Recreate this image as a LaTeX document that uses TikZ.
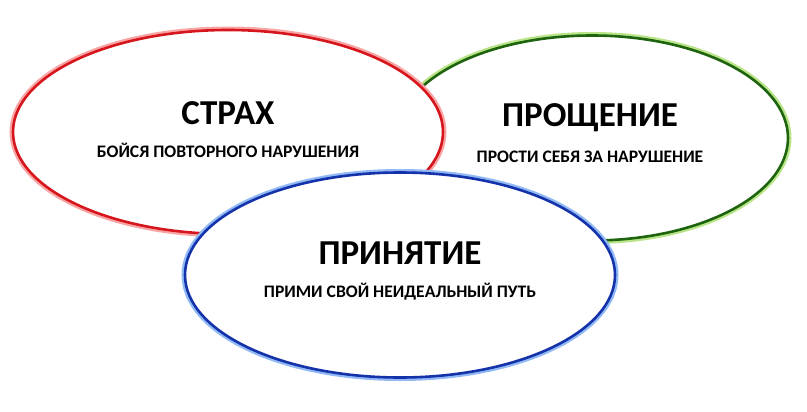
\documentclass[tikz,border=0pt]{standalone}
\usepackage{fontspec}
\setmainfont{Carlito}
\usetikzlibrary{shapes.geometric}
\definecolor{redline}{RGB}{214,22,28}
\definecolor{redglow}{RGB}{250,165,165}
\definecolor{greenline}{RGB}{30,100,14}
\definecolor{greenglow}{RGB}{185,228,135}
\definecolor{blueline}{RGB}{20,50,170}
\definecolor{blueglow}{RGB}{145,185,245}
\tikzset{
  oval/.style={ellipse, inner sep=0pt, outer sep=0pt, fill=white, line width=2.6pt},
  titletext/.style={font=\fontsize{35}{38}\selectfont\bfseries, inner sep=0pt},
  subtext/.style={font=\fontsize{17.6}{19}\selectfont\bfseries, inner sep=0pt},
}
\begin{document}
\begin{tikzpicture}[x=1pt,y=-1pt]
\useasboundingbox[fill=white] (0,0) rectangle (807,412);
% green (bottom)
\node[oval, draw=greenline, preaction={draw=greenglow, line width=7pt},
      minimum width=392pt, minimum height=205pt] (green) at (592,138) {};
% red
\node[oval, draw=redline, preaction={draw=redglow, line width=7pt},
      minimum width=430pt, minimum height=204pt] (red) at (228,132) {};
% blue (top)
\node[oval, draw=blueline, preaction={draw=blueglow, line width=7pt},
      minimum width=430pt, minimum height=205pt] (blue) at (400,275) {};
% texts
\node[titletext] (t1) at (228,113) {СТРАХ};
\node[subtext] (s1) at (228,150) {БОЙСЯ ПОВТОРНОГО НАРУШЕНИЯ};
\node[titletext] (t2) at (590,118) {ПРОЩЕНИЕ};
\node[subtext] (s2) at (590,157) {ПРОСТИ СЕБЯ ЗА НАРУШЕНИЕ};
\node[titletext] (t3) at (400,253) {ПРИНЯТИЕ};
\node[subtext] (s3) at (400,292) {ПРИМИ СВОЙ НЕИДЕАЛЬНЫЙ ПУТЬ};
\end{tikzpicture}
\end{document}
